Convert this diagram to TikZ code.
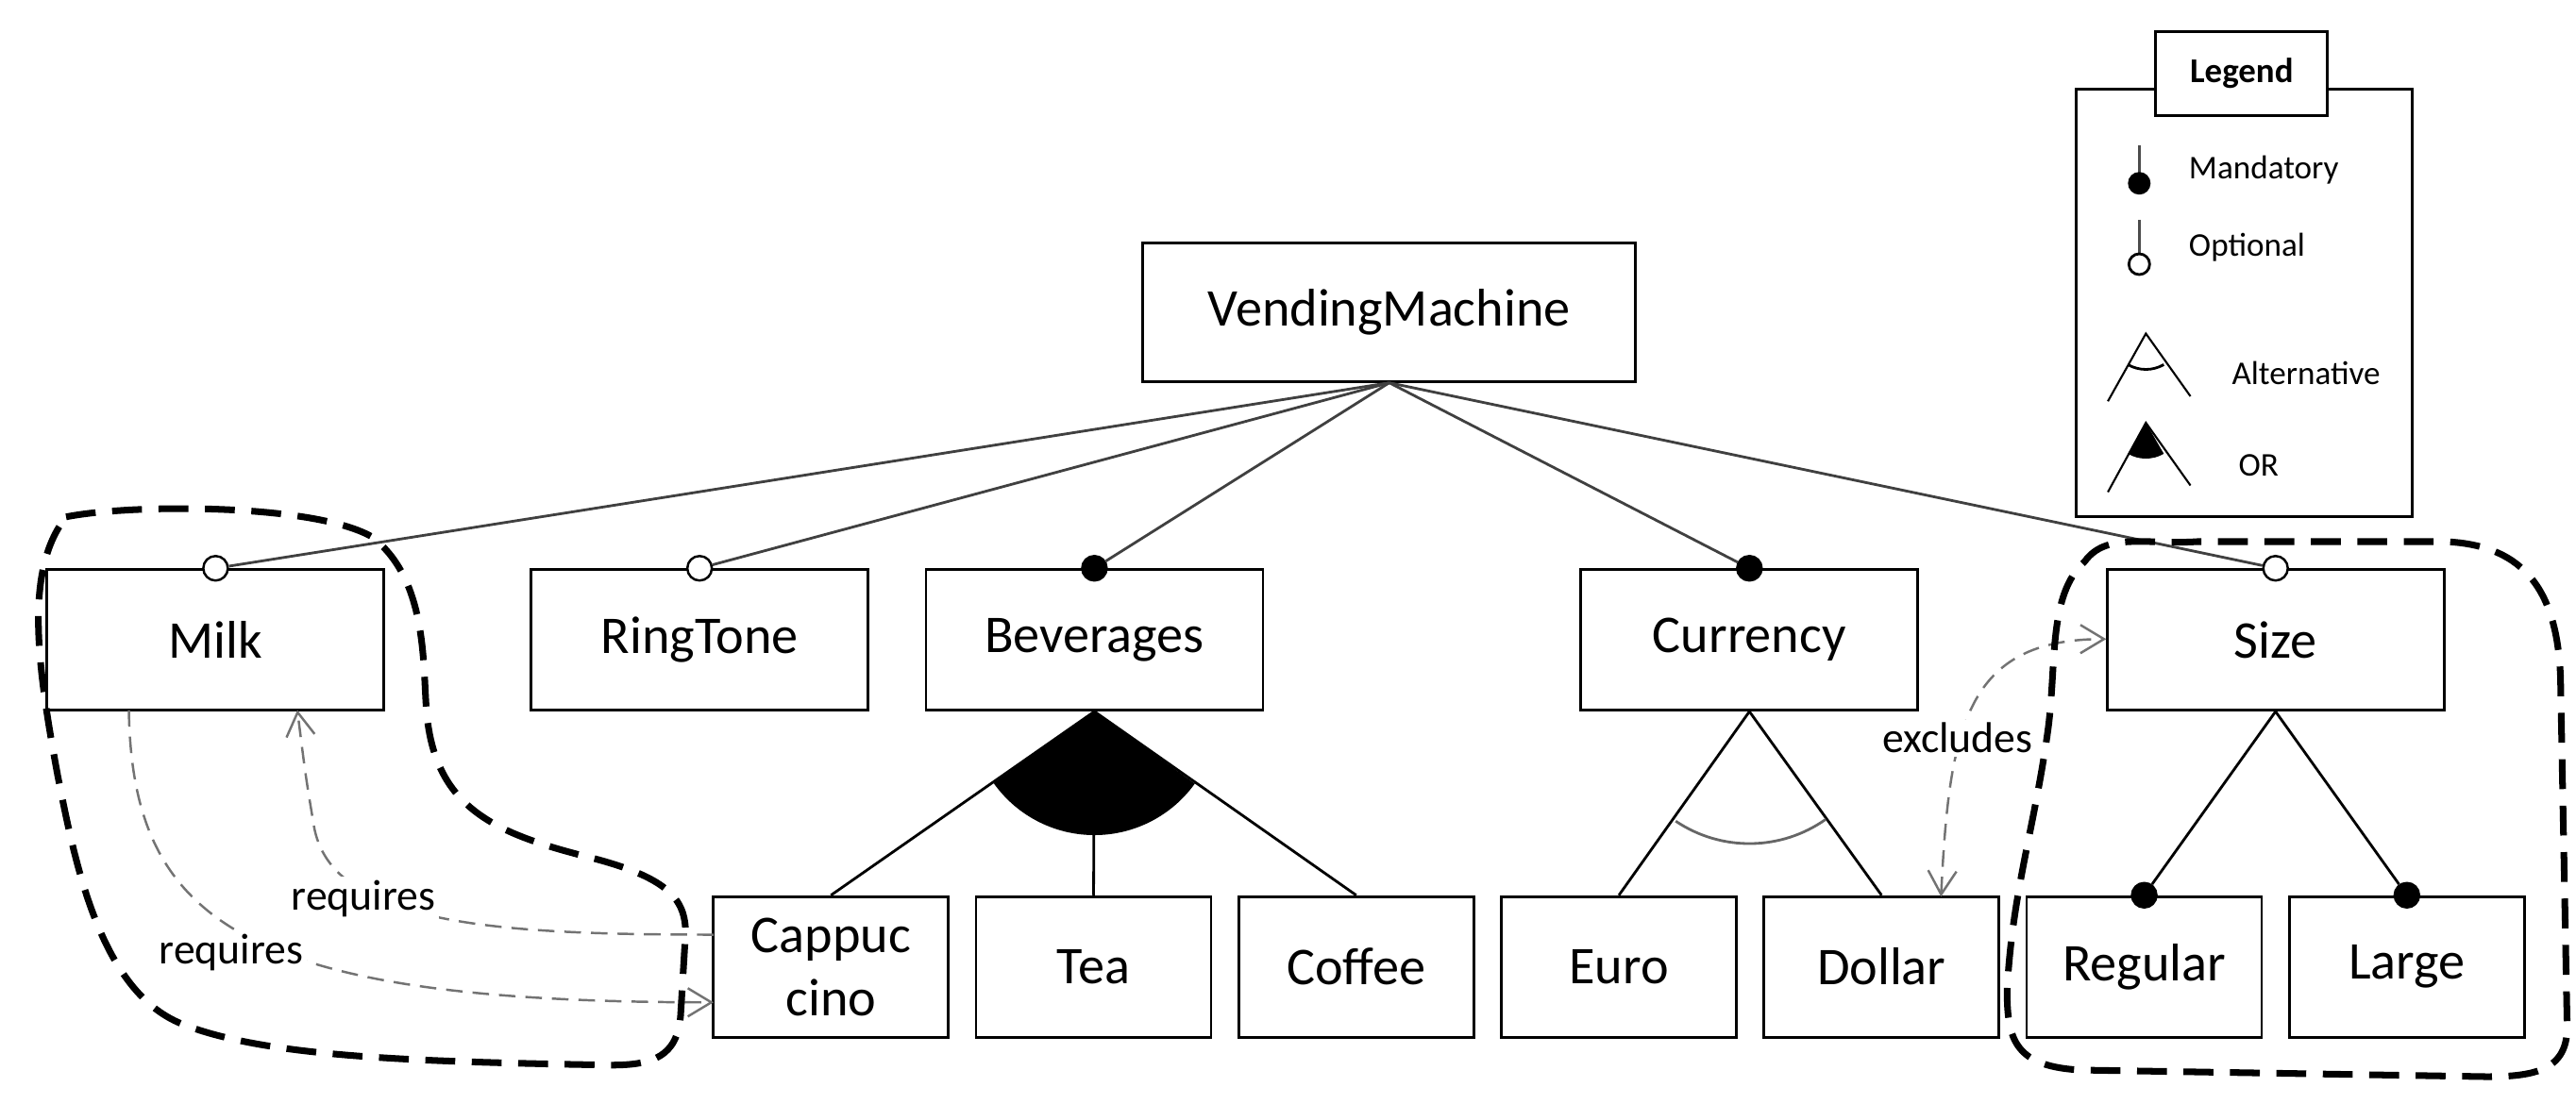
\documentclass[tikz,border=0pt]{standalone}
\usepackage{fontspec}
\setmainfont{Carlito}
\usetikzlibrary{arrows.meta}
\begin{document}
\begin{tikzpicture}[x=0.0175cm,y=-0.0175cm,
  feat/.style={draw,line width=0.8pt,inner sep=0pt,font=\fontsize{16}{19}\selectfont,align=center},
  small/.style={feat,minimum width=2.49cm,minimum height=1.49cm},
  mid/.style={feat,minimum width=3.57cm,minimum height=1.49cm},
  opt/.style={circle,draw,fill=white,line width=0.7pt,minimum size=0.26cm,inner sep=0pt},
  man/.style={circle,draw,fill=black,line width=0.7pt,minimum size=0.26cm,inner sep=0pt},
  link/.style={line width=0.8pt,black!75},
  dep/.style={dashed,black!55,line width=0.7pt,dash pattern=on 5pt off 3pt},
  arr/.style={-{Straight Barb[length=2.5mm,width=3mm]}},
  blob/.style={line width=2pt,dash pattern=on 9pt off 5pt},
  lbl/.style={font=\fontsize{13}{15}\selectfont,inner sep=1pt}]
\useasboundingbox[fill=white] (0,0) rectangle (1559.4,668);
% features
\node[feat,minimum width=5.22cm,minimum height=1.47cm] (vm) at (841,189) {VendingMachine};
\node[mid] (milk) at (130.5,387.5) {Milk};
\node[mid] (ring) at (423.5,387.5) {RingTone};
\node[mid] (bev) at (662.5,387.5) {Beverages};
\node[mid] (cur) at (1059,387.5) {Currency};
\node[mid] (size) at (1377.5,387.5) {Size};
\node[small] (cap) at (503,585.5) {Cappuc\\cino};
\node[small] (tea) at (662,585.5) {Tea};
\node[small] (cof) at (821,585.5) {Coffee};
\node[small] (euro) at (980,585.5) {Euro};
\node[small] (dol) at (1139,585.5) {Dollar};
\node[small] (reg) at (1298,585.5) {Regular};
\node[small] (lar) at (1457,585.5) {Large};
% markers
\node[opt] (om) at (milk.north) {};
\node[opt] (or) at (ring.north) {};
\node[man] (mb) at (bev.north) {};
\node[man] (mc) at (cur.north) {};
\node[opt] (os) at (size.north) {};
\node[man] (mr) at (reg.north) {};
\node[man] (ml) at (lar.north) {};
\draw[link] (vm.south) -- (om);
\draw[link] (vm.south) -- (or);
\draw[link] (vm.south) -- (mb);
\draw[link] (vm.south) -- (mc);
\draw[link] (vm.south) -- (os);
% OR group
\fill (bev.south) -- ++(-144.6:1.31cm) arc[start angle=-144.6,end angle=-35.7,radius=1.31cm] -- cycle;
\draw[link,black] (bev.south) -- (cap.north);
\draw[link,black] (bev.south) -- (tea.north);
\draw[link,black] (bev.south) -- (cof.north);
% alternative group
\draw[link,black] (cur.south) -- (euro.north);
\draw[link,black] (cur.south) -- (dol.north);
\draw[link,black!60] (cur.south) ++(-123.9:1.4cm) arc[start angle=-123.9,end angle=-54.7,radius=1.4cm];
% size
\draw[link,black] (size.south) -- (mr);
\draw[link,black] (size.south) -- (ml);
% requires
\coordinate (c1) at (432,566);
\coordinate (c2) at (432,607);
\coordinate (m1) at (180,430);
\coordinate (m2) at (78,430);
\draw[dep,arr] (c1) .. controls (300,566) and (200,560) .. (190,500) .. controls (185,470) .. (m1);
\draw[dep,arr] (m2) .. controls (80,560) and (150,607) .. (c2);
\node[lbl,fill=white] (rq1) at (220,544) {requires};
\node[lbl,fill=white] (rq2) at (140,577) {requires};
% excludes
\coordinate (d1) at (1175,543);
\coordinate (s1) at (1275,387);
\draw[dep,{Straight Barb[length=2.5mm,width=3mm]}-{Straight Barb[length=2.5mm,width=3mm]}] (d1) .. controls (1180,440) and (1190,387) .. (s1);
\node[lbl,fill=white] (ex) at (1185,447) {excludes};
% blobs
\draw[blob] (40,313) .. controls (80,305) and (190,305) .. (225,325) .. controls (258,350) and (256,400) .. (258,428)
  .. controls (262,490) and (300,505) .. (360,520) .. controls (405,532) and (415,545) .. (415,565)
  -- (412,615) .. controls (410,640) and (395,645) .. (370,645) .. controls (250,643) and (160,640) .. (110,620)
  .. controls (60,600) and (45,520) .. (35,470) .. controls (22,400) and (15,345) .. (40,313);
\draw[blob] (1262,340) .. controls (1275,322) and (1300,330) .. (1330,328) -- (1480,328)
  .. controls (1530,330) and (1548,360) .. (1550,410) -- (1554,620) .. controls (1555,648) and (1535,652) .. (1505,652)
  -- (1260,648) .. controls (1220,646) and (1215,630) .. (1215,600) .. controls (1218,540) and (1232,500) .. (1240,440)
  .. controls (1245,400) and (1240,360) .. (1262,340);
% legend
\draw[line width=0.9pt] (1257,54) rectangle (1460,313);
\node[draw,fill=white,line width=0.9pt,minimum width=1.82cm,minimum height=0.89cm,font=\bfseries\fontsize{10.5}{12}\selectfont] (lt) at (1357,44.5) {Legend};
\draw[line width=0.7pt,black!70] (1295,88) -- (1295,106);
\fill (1295,111) circle[radius=0.12cm];
\node[anchor=west,font=\fontsize{10}{12}\selectfont] (l1) at (1318,103) {Mandatory};
\draw[line width=0.7pt,black!70] (1295,133) -- (1295,155);
\draw[line width=0.8pt,fill=white] (1295,160) circle[radius=0.11cm];
\node[anchor=west,font=\fontsize{10}{12}\selectfont] (l2) at (1318,150) {Optional};
\draw[line width=0.6pt] (1276,243) -- (1299,202) -- (1326,240);
\draw[line width=0.8pt] (1299,202) ++(-120:0.38cm) arc[start angle=-120,end angle=-60,radius=0.38cm];
\node[anchor=west,font=\fontsize{10}{12}\selectfont] (l3) at (1344,226) {Alternative};
\fill (1299,256) -- ++(-120:0.38cm) arc[start angle=-120,end angle=-60,radius=0.38cm] -- cycle;
\draw[line width=0.6pt] (1276,298) -- (1299,256) -- (1326,294);
\node[anchor=west,font=\fontsize{10}{12}\selectfont] (l4) at (1348,282) {OR};
\end{tikzpicture}
\end{document}
